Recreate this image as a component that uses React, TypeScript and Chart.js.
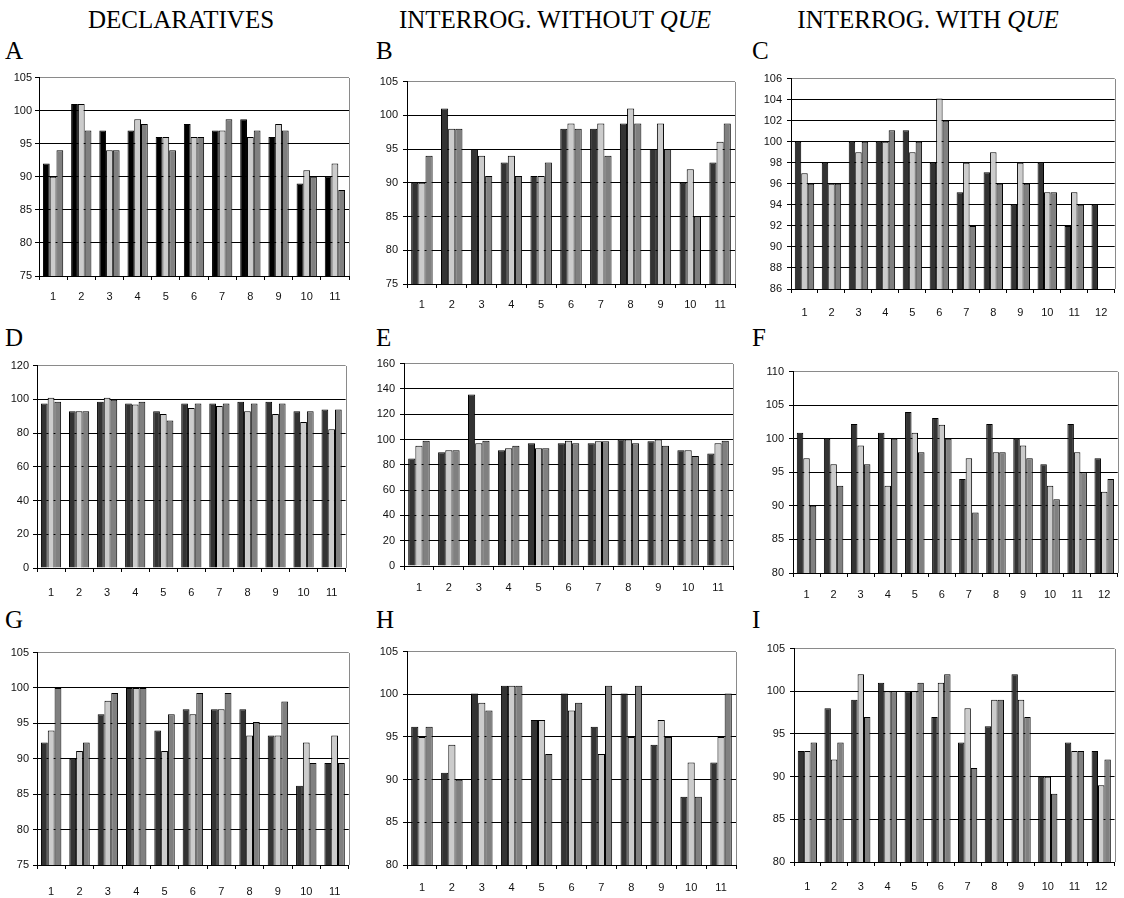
import React, { useEffect, useRef } from 'react';
import { Chart, registerables } from 'chart.js';

Chart.register(...registerables);

// ---------- data ----------
const labels11 = ['1', '2', '3', '4', '5', '6', '7', '8', '9', '10', '11'];
const labels12 = ['1', '2', '3', '4', '5', '6', '7', '8', '9', '10', '11', '12'];

const columnTitles = ['DECLARATIVES', 'INTERROG. WITHOUT ', 'INTERROG. WITH '];
const panelLetters = ['A', 'B', 'C', 'D', 'E', 'F', 'G', 'H', 'I'];

const aDark = [92, 101, 97, 97, 96, 98, 97, 98.7, 96, 89, 90];
const aLight = [90, 101, 94, 98.7, 96, 96, 97, 96, 98, 91, 92];
const aMid = [94, 97, 94, 98, 94, 96, 98.7, 97, 97, 90, 88];

const bDark = [90, 101, 95, 93, 91, 98, 98, 98.8, 95, 90, 93];
const bLight = [90, 98, 94, 94, 91, 98.8, 98.8, 101, 98.8, 92, 96.1];
const bMid = [94, 98, 91, 91, 93, 98, 94, 98.8, 95, 85, 98.8];

const cDark = [100, 98, 100, 100, 101.1, 98, 95.2, 97.1, 94, 98, 92, 94];
const cLight = [97, 96, 99, 100, 99, 104.1, 98, 99, 98, 95.2, 95.2, null];
const cMid = [96, 96, 100, 101.1, 100, 102, 92, 96, 96, 95.2, 94, null];

const dDark = [97.5, 93, 98.6, 97.5, 93, 97.5, 97.5, 98.6, 98.6, 93, 94];
const dLight = [101, 93, 101, 97, 91.3, 94.8, 96, 93, 91.3, 86.5, 82.3];
const dMid = [98.6, 93, 99.8, 98.6, 87.5, 97.5, 97.5, 97.5, 97.5, 93, 94];

const eDark = [85, 90, 135.5, 91.5, 97, 97, 97, 100, 98.7, 91.5, 89];
const eLight = [95, 91.5, 97, 93, 93, 99, 98.7, 100, 100, 91.5, 97];
const eMid = [99, 91.5, 99, 95, 93, 97, 98.7, 97, 95, 87, 99];

const fDark = [100.9, 100, 102.2, 100.9, 104, 103.1, 94, 102.2, 100, 96.2, 102.2, 97.1];
const fLight = [97.1, 96.2, 99, 93, 100.9, 102.1, 97.1, 98, 99, 93, 98, 92.1];
const fMid = [90, 93, 96.2, 100, 98, 100, 89, 98, 97.1, 91, 95, 94];

const gDark = [92.3, 90, 96.3, 100, 94, 97, 97, 97, 93.3, 86.2, 89.4];
const gLight = [94, 91.1, 98.2, 100, 91.1, 96.3, 97, 93.3, 93.3, 92.3, 93.3];
const gMid = [100, 92.3, 99.3, 100, 96.3, 99.3, 99.3, 95.2, 98.1, 89.4, 89.4];

const hDark = [96.2, 90.8, 100.1, 101, 97, 100.1, 96.2, 100.1, 94.1, 88, 92];
const hLight = [95, 94.1, 99, 101, 97, 98.1, 93, 95, 97, 92, 95];
const hMid = [96.2, 90, 98.1, 101, 93, 99, 101, 101, 95, 88, 100.1];

const iDark = [93, 98, 99, 101, 100, 97, 94, 95.9, 102, 90, 94, 93];
const iLight = [93, 92, 102, 100, 100, 101, 98, 99, 99, 90, 93, 89];
const iMid = [94, 94, 97, 100, 101, 102, 91, 99, 97, 88, 93, 92];

// y axis ranges: [min, max, step]
const yRangeA = [75, 105, 5];
const yRangeB = [75, 105, 5];
const yRangeC = [86, 106, 2];
const yRangeD = [0, 120, 20];
const yRangeE = [0, 160, 20];
const yRangeF = [80, 110, 5];
const yRangeG = [75, 105, 5];
const yRangeH = [80, 105, 5];
const yRangeI = [80, 105, 5];

// ---------- styles / layout ----------
const DARK = '#333333';
const LIGHT = '#cccccc';
const MID = '#808080';
const BLACK = '#000000';
const FRAME = '#8a8a8a';

const Y_W = 40;
const PAD_T = 8;
const PAD_R = 4;
const X_H = 40;

type PanelCfg = {
  labels: string[];
  series: (number | null)[][];
  colors: string[];
  range: number[];
  rect: { L: number; R: number; T: number; B: number };
  xPad: number;
  yPad: number;
};

const panels: PanelCfg[] = [
  { labels: labels11, series: [aDark, aLight, aMid], colors: [BLACK, LIGHT, MID], range: yRangeA, rect: { L: 39, R: 349, T: 76, B: 276 }, xPad: 10.5, yPad: 3 },
  { labels: labels11, series: [bDark, bLight, bMid], colors: [DARK, LIGHT, MID], range: yRangeB, rect: { L: 407, R: 735, T: 78, B: 284 }, xPad: 10.5, yPad: 5 },
  { labels: labels12, series: [cDark, cLight, cMid], colors: [DARK, LIGHT, MID], range: yRangeC, rect: { L: 791, R: 1117, T: 75, B: 289 }, xPad: 13.5, yPad: 5 },
  { labels: labels11, series: [dDark, dLight, dMid], colors: [DARK, LIGHT, MID], range: yRangeD, rect: { L: 37, R: 348, T: 363, B: 568 }, xPad: 14.5, yPad: 4 },
  { labels: labels11, series: [eDark, eLight, eMid], colors: [DARK, LIGHT, MID], range: yRangeE, rect: { L: 404, R: 733, T: 360, B: 566 }, xPad: 11.5, yPad: 5 },
  { labels: labels12, series: [fDark, fLight, fMid], colors: [DARK, LIGHT, MID], range: yRangeF, rect: { L: 793, R: 1118, T: 368, B: 573 }, xPad: 11.5, yPad: 5 },
  { labels: labels11, series: [gDark, gLight, gMid], colors: [DARK, LIGHT, MID], range: yRangeG, rect: { L: 37, R: 353, T: 650, B: 865 }, xPad: 16.5, yPad: 4 },
  { labels: labels11, series: [hDark, hLight, hMid], colors: [DARK, LIGHT, MID], range: yRangeH, rect: { L: 407, R: 736, T: 648, B: 865 }, xPad: 12.5, yPad: 5 },
  { labels: labels12, series: [iDark, iLight, iMid], colors: [DARK, LIGHT, MID], range: yRangeI, rect: { L: 794, R: 1118, T: 645, B: 862 }, xPad: 14.5, yPad: 5 },
];

const frameRight = {
  id: 'frameRight',
  afterDraw(chart: any) {
    const { ctx, chartArea } = chart;
    const x = Math.round(chartArea.right) + 0.5;
    ctx.save();
    ctx.strokeStyle = FRAME;
    ctx.lineWidth = 1;
    ctx.beginPath();
    ctx.moveTo(x, Math.round(chartArea.top));
    ctx.lineTo(x, Math.round(chartArea.bottom));
    ctx.stroke();
    ctx.restore();
  },
};

const tickFont = { family: '"Liberation Sans", Arial, sans-serif', size: 11 };

function Panel({ cfg }: { cfg: PanelCfg }) {
  const ref = useRef<HTMLCanvasElement | null>(null);
  const { L, R, T, B } = cfg.rect;
  const width = R - L + Y_W + PAD_R;
  const height = B - T + PAD_T + X_H;

  useEffect(() => {
    if (!ref.current) return;
    const [min, max, step] = cfg.range;
    const chart = new Chart(ref.current, {
      type: 'bar',
      data: {
        labels: cfg.labels,
        datasets: cfg.series.map((s, i) => ({
          data: s,
          backgroundColor: cfg.colors[i],
          borderColor: BLACK,
          borderWidth: 1,
          inflateAmount: 0,
          categoryPercentage: 0.72,
          barPercentage: 1.0,
        })),
      },
      options: {
        responsive: false,
        animation: false,
        events: [],
        layout: { padding: { top: PAD_T, right: PAD_R, left: 0, bottom: 0 } },
        plugins: { legend: { display: false }, tooltip: { enabled: false }, title: { display: false } },
        scales: {
          x: {
            offset: true,
            afterFit: (scale: any) => { scale.height = X_H; },
            grid: { offset: true, drawOnChartArea: false, drawTicks: true, tickLength: 4, color: BLACK, lineWidth: 1 },
            border: { display: true, color: BLACK, width: 1 },
            ticks: {
              autoSkip: false,
              maxRotation: 0,
              minRotation: 0,
              padding: cfg.xPad,
              color: '#111',
              font: tickFont,
            },
          },
          y: {
            min,
            max,
            afterFit: (scale: any) => { scale.width = Y_W; },
            grid: {
              color: (ctx: any) => (ctx.tick && ctx.tick.value === max ? FRAME : BLACK),
              tickColor: BLACK,
              lineWidth: 1,
              drawTicks: true,
              tickLength: 4,
            },
            border: { display: true, color: BLACK, width: 1 },
            ticks: {
              stepSize: step,
              padding: cfg.yPad,
              color: '#111',
              font: tickFont,
            },
          },
        },
      },
      plugins: [frameRight],
    });
    return () => chart.destroy();
  }, [cfg]);

  return (
    <canvas
      ref={ref}
      width={width}
      height={height}
      style={{ position: 'absolute', left: L - Y_W, top: T - PAD_T, width, height }}
    />
  );
}

const serif = '"Liberation Serif", "Times New Roman", serif';

export default function App() {
  const titleCenters = [181, 555, 928];
  const letterLefts = [5, 376, 752];
  const letterTops = [38, 325, 607];
  return (
    <div style={{ position: 'absolute', left: 0, top: 0, width: 1124, height: 898, background: '#fff', overflow: 'hidden' }}>
      {columnTitles.map((t, i) => (
        <div
          key={'t' + i}
          style={{
            position: 'absolute',
            left: titleCenters[i],
            top: 7,
            transform: 'translateX(-50%)',
            fontFamily: serif,
            fontSize: 25,
            lineHeight: '25px',
            whiteSpace: 'pre',
            color: '#000',
          }}
        >
          {t}
          {i > 0 ? <i>QUE</i> : null}
        </div>
      ))}
      {panelLetters.map((l, i) => (
        <div
          key={'l' + i}
          style={{
            position: 'absolute',
            left: letterLefts[i % 3],
            top: letterTops[Math.floor(i / 3)],
            fontFamily: serif,
            fontSize: 25,
            lineHeight: '25px',
            color: '#000',
          }}
        >
          {l}
        </div>
      ))}
      {panels.map((p, i) => (
        <Panel key={i} cfg={p} />
      ))}
    </div>
  );
}
